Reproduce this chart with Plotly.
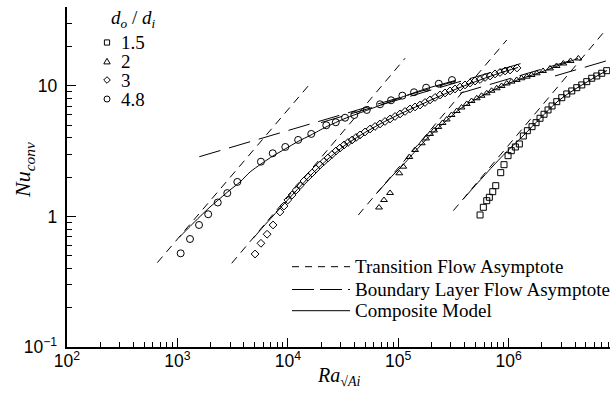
import plotly.graph_objects as go

# ---------------- data ----------------
# d_o/d_i = 1.5 (squares)
ra_15 = [550800, 590000, 633300, 668800, 717800, 764000, 847500, 908000, 988000, 1057000,
         1151000, 1250000, 1359000, 1477000, 1629000, 1771000, 1924000, 2092000, 2274000,
         2472000, 2728000, 3027000, 3360000, 3729000, 4139000, 4593000, 5098000, 5658000,
         6280000, 6969000, 7734000]
nu_15 = [1.027, 1.176, 1.321, 1.403, 1.549, 1.722, 2.166, 2.494, 2.924, 3.192, 3.408, 3.594,
         4.139, 4.542, 4.877, 5.234, 5.655, 6.07, 6.55, 7.03, 7.58, 8.13, 8.68, 9.16, 9.70,
         10.18, 10.79, 11.46, 11.93, 12.51, 13.10]
# d_o/d_i = 2 (triangles)
ra_2 = [67000, 74300, 84300, 102300, 111200, 126100, 142000, 163300, 178600, 194100, 211000,
        230700, 251900, 274900, 303900, 338800, 374400, 417100, 461200, 514200, 568200, 633300,
        699900, 780000, 862300, 961000, 1062000, 1183000, 1309000, 1459000, 1612000, 1797000,
        2049000, 2371000, 2716000, 3128000, 3636000, 4279000]
nu_2 = [1.172, 1.337, 1.514, 2.143, 2.408, 2.857, 3.233, 3.638, 3.960, 4.289, 4.560, 4.853,
        5.206, 5.537, 5.995, 6.43, 6.843, 7.28, 7.674, 8.05, 8.413, 8.79, 9.189, 9.60, 10.0,
        10.45, 10.79, 11.12, 11.46, 11.78, 12.14, 12.51, 13.03, 13.62, 14.23, 14.87, 15.55, 16.25]
# d_o/d_i = 3 (diamonds)
ra_3 = [5050, 5710, 6490, 7350, 8490, 9240, 10000, 10920, 11900, 12900, 14000, 15240, 16600,
        18000, 19600, 21280, 23100, 25140, 27300, 29710, 32300, 35100, 38200, 41480, 45100,
        50030, 55600, 61640, 68400, 75930, 84300, 93540, 103800, 115240, 127900, 141970,
        157500, 174900, 194100, 215400, 239200, 265400, 294500, 326900, 363100, 402800,
        446700, 496200, 550800, 611200, 679200, 753000, 835600, 927700, 1030000, 1191000]
nu_3 = [0.516, 0.623, 0.731, 0.861, 1.083, 1.203, 1.337, 1.461, 1.596, 1.728, 1.871, 2.007,
        2.154, 2.312, 2.481, 2.640, 2.807, 2.986, 3.176, 3.349, 3.531, 3.690, 3.855, 4.031,
        4.213, 4.441, 4.681, 4.894, 5.114, 5.346, 5.586, 5.839, 6.10, 6.377, 6.666, 6.905,
        7.148, 7.474, 7.814, 8.165, 8.53, 8.839, 9.16, 9.484, 9.82, 10.18, 10.54, 10.92, 11.21,
        11.62, 11.93, 12.36, 12.69, 13.03, 13.26, 13.74]
# d_o/d_i = 4.8 (circles)
ra_48 = [1070, 1300, 1570, 1900, 2320, 2830, 3490, 5710, 7300, 9490, 12400, 16300, 22300,
         27200, 33000, 40000, 51900, 68400, 86100, 109000, 139000, 179000, 233000, 307000]
nu_48 = [0.522, 0.672, 0.861, 1.04, 1.28, 1.51, 1.84, 2.63, 3.05, 3.41, 3.86, 4.29, 5.00,
         5.27, 5.71, 5.99, 6.55, 7.24, 7.77, 8.43, 8.95, 9.70, 10.4, 11.1]

# composite model curves
comp_ra_15 = [389000, 476000, 586000, 722000, 889000, 1096000, 1349000, 1629000, 1924000,
              2274000, 2742000, 3381000, 4165000, 5130000, 6320000, 7786000]
comp_nu_15 = [1.362, 1.652, 2.007, 2.438, 2.934, 3.500, 4.139, 4.877, 5.636, 6.49, 7.54, 8.61,
              9.66, 10.73, 11.93, 13.14]
comp_ra_2 = [63850, 75900, 89740, 110500, 142000, 194100, 274900, 363100, 550800, 835600,
             1268000, 1924000, 2922000, 4254000]
comp_nu_2 = [1.506, 1.775, 2.080, 2.481, 3.148, 4.176, 5.440, 6.666, 8.236, 9.82, 11.31, 12.69,
             14.48, 16.25]
comp_ra_3 = [4870, 5960, 7345, 9050, 11860, 16560, 23120, 32280, 45100, 68400, 103800, 157500,
             239200, 363100, 550800, 835600, 1217000]
comp_nu_3 = [0.681, 0.831, 1.009, 1.225, 1.568, 2.117, 2.758, 3.468, 4.176, 5.114, 6.10, 7.148,
             8.38, 9.74, 11.12, 12.58, 13.86]
comp_ra_48 = [1040, 1300, 1603, 1974, 2432, 2994, 3690, 4550, 5715, 7345, 9440, 12370, 16220,
              22180, 32960, 50030, 75900, 115300, 175000, 326800]
comp_nu_48 = [0.693, 0.838, 1.0, 1.183, 1.374, 1.596, 1.838, 2.193, 2.525, 2.909, 3.289, 3.755,
              4.212, 4.852, 5.636, 6.43, 7.34, 8.38, 9.48, 11.0]

# transition-flow asymptotes (end points)
trans_ra_15 = [315600, 7469000]
trans_nu_15 = [1.108, 26.5]
trans_ra_2 = [43500, 961000]
trans_nu_2 = [1.027, 22.5]
trans_ra_3 = [3104, 115300]
trans_nu_3 = [0.438, 16.3]
trans_ra_48 = [658, 16220]
trans_nu_48 = [0.443, 10.6]

# boundary-layer asymptotes (end points)
bl_ra_15 = [2630000, 7800000]
bl_nu_15 = [11.93, 15.63]
bl_ra_2 = [363000, 4300000]
bl_nu_2 = [8.79, 16.3]
bl_ra_3 = [20000, 1300000]
bl_nu_3 = [5.24, 14.88]
bl_ra_48 = [1578, 330000]
bl_nu_48 = [2.87, 10.9]

series_labels = ["1.5", "2", "3", "4.8"]
legend_lines = ["Transition Flow Asymptote", "Boundary Layer Flow Asymptote", "Composite Model"]

# ---------------- figure ----------------
W, H = 610, 397
ML, MR, MT, MB = 67, 0, 7, 50
SERIF = "Liberation Serif, Times New Roman, serif"
SANS = "Liberation Sans, Arial, sans-serif"

fig = go.Figure()

TR_DASH = "8px,6px"
BL_DASH = "22px,9px"

for rx, ny in [(trans_ra_15, trans_nu_15), (trans_ra_2, trans_nu_2),
               (trans_ra_3, trans_nu_3), (trans_ra_48, trans_nu_48)]:
    fig.add_trace(go.Scatter(x=rx, y=ny, mode="lines", showlegend=False, hoverinfo="skip",
                             line=dict(color="black", width=1, dash=TR_DASH)))
for rx, ny in [(bl_ra_15, bl_nu_15), (bl_ra_2, bl_nu_2),
               (bl_ra_3, bl_nu_3), (bl_ra_48, bl_nu_48)]:
    fig.add_trace(go.Scatter(x=rx, y=ny, mode="lines", showlegend=False, hoverinfo="skip",
                             line=dict(color="black", width=1, dash=BL_DASH)))
for rx, ny in [(comp_ra_15, comp_nu_15), (comp_ra_2, comp_nu_2),
               (comp_ra_3, comp_nu_3), (comp_ra_48, comp_nu_48)]:
    fig.add_trace(go.Scatter(x=rx, y=ny, mode="lines", showlegend=False, hoverinfo="skip",
                             line=dict(color="black", width=1, shape="spline", smoothing=0.6)))

symbols = ["square-open", "triangle-up-open", "diamond-open", "circle-open"]
sizes = [6, 6, 6, 7]
for (rx, ny), sym, sz, lab in zip([(ra_15, nu_15), (ra_2, nu_2), (ra_3, nu_3), (ra_48, nu_48)],
                                  symbols, sizes, series_labels):
    fig.add_trace(go.Scatter(x=rx, y=ny, mode="markers", name=lab, showlegend=False,
                             marker=dict(symbol=sym, size=sz, color="black",
                                         line=dict(color="black", width=1))))

pw = W - ML - MR
ph = H - MT - MB


def px(x):
    return (x - ML) / pw


def py(y):
    return (H - MB - y) / ph


shapes = []
annotations = []


def label(x, y, text, size=19, xanchor="left", angle=0):
    annotations.append(dict(x=px(x), y=py(y), xref="paper", yref="paper", showarrow=False,
                            xanchor=xanchor, yanchor="middle", text=text, textangle=angle,
                            font=dict(family=SERIF, size=size, color="black")))


# top-left marker legend
label(133, 19, "<i>d</i><sub><i>o</i></sub> / <i>d</i><sub><i>i</i></sub>", xanchor="center")
leg_y = [42.5, 61.5, 80, 99]
mx = 107
for i, lab in enumerate(series_labels):
    yy = leg_y[i]
    label(119, yy, lab)
    s = 2.6
    if i == 0:
        shapes.append(dict(type="rect", xref="paper", yref="paper", x0=px(mx - s), x1=px(mx + s),
                           y0=py(yy - s), y1=py(yy + s), line=dict(color="black", width=1)))
    elif i == 1:
        path = "M {} {} L {} {} L {} {} Z".format(px(mx), py(yy - 3.2), px(mx - 3.2), py(yy + 2.4),
                                                  px(mx + 3.2), py(yy + 2.4))
        shapes.append(dict(type="path", xref="paper", yref="paper", path=path,
                           line=dict(color="black", width=1)))
    elif i == 2:
        path = "M {} {} L {} {} L {} {} L {} {} Z".format(px(mx), py(yy - 3.3), px(mx + 3.3), py(yy),
                                                          px(mx), py(yy + 3.3), px(mx - 3.3), py(yy))
        shapes.append(dict(type="path", xref="paper", yref="paper", path=path,
                           line=dict(color="black", width=1)))
    else:
        shapes.append(dict(type="circle", xref="paper", yref="paper", x0=px(mx - 3), x1=px(mx + 3),
                           y0=py(yy - 3), y1=py(yy + 3), line=dict(color="black", width=1)))

# bottom-right line legend
rows = [266.7, 289.5, 310.7]
dashes = ["7px,6px", "22px,6px", "solid"]
for yy, lab, d in zip(rows, legend_lines, dashes):
    shapes.append(dict(type="line", xref="paper", yref="paper", x0=px(292), x1=px(350),
                       y0=py(yy), y1=py(yy), line=dict(color="black", width=1, dash=d)))
    label(353, yy - 0.5, lab)

# axis titles
label(338.5, 376, "<i>Ra</i><sub>√<i>Ai</i></sub>", size=20, xanchor="center")
label(24, 170, "<i>Nu</i><sub><i>conv</i></sub>", size=22, xanchor="center", angle=-90)

axis_common = dict(type="log", showline=True, linewidth=2, linecolor="black", mirror=False,
                   ticks="inside", ticklen=9, tickwidth=1, tickcolor="black", dtick=1,
                   exponentformat="power", showgrid=False, zeroline=False,
                   tickfont=dict(family=SANS, size=14, color="black"),
                   minor=dict(ticks="inside", ticklen=5, tickwidth=1, tickcolor="black",
                              dtick="D1", showgrid=False))

fig.update_layout(
    width=W, height=H, autosize=False,
    margin=dict(l=ML, r=MR, t=MT, b=MB, pad=0),
    paper_bgcolor="white", plot_bgcolor="white",
    xaxis=dict(range=[2, 6.918], ticklabelstandoff=-2, **axis_common),
    yaxis=dict(range=[-1, 1.605], ticklabelstandoff=5, **axis_common),
    shapes=shapes, annotations=annotations, showlegend=False,
)

fig.write_html("out.html")
